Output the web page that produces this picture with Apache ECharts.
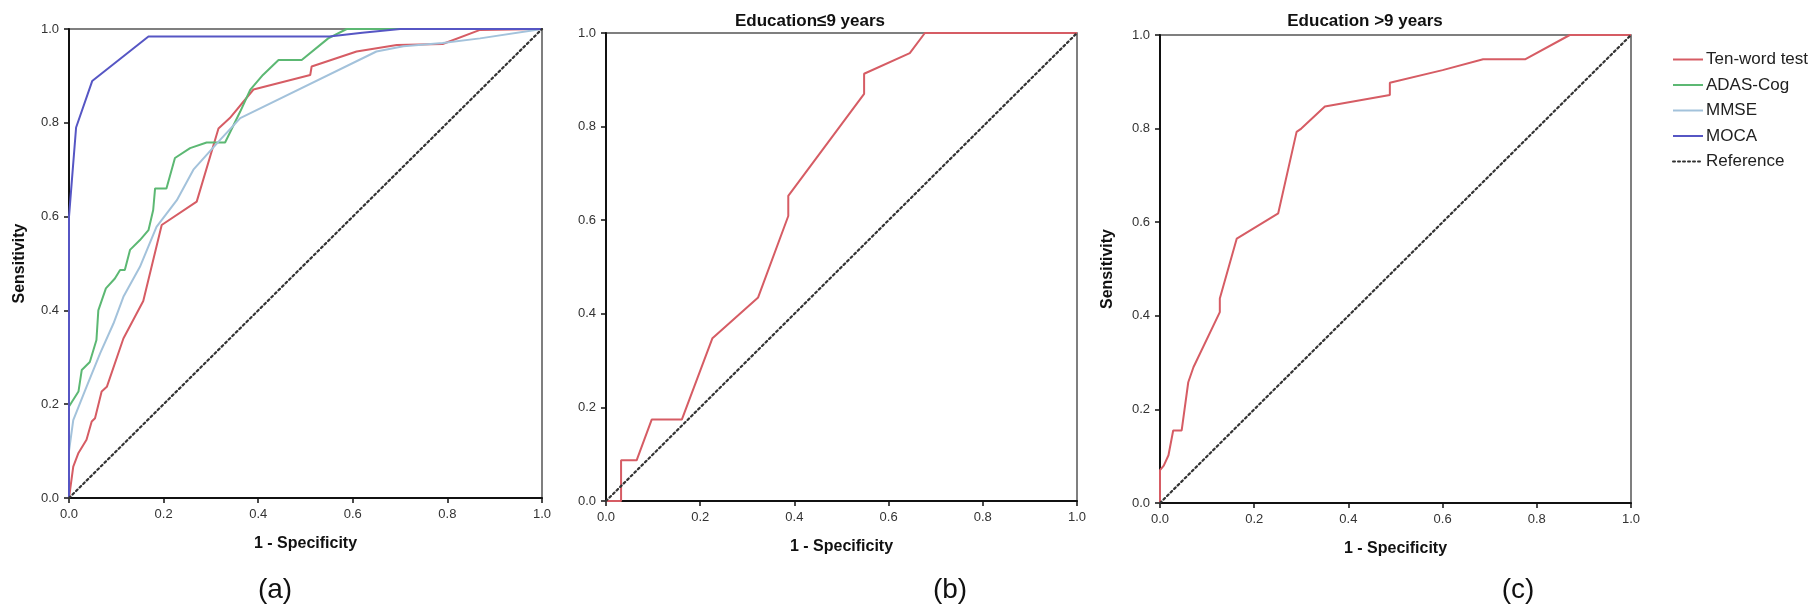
<!DOCTYPE html>
<html>
<head>
<meta charset="utf-8">
<script src="https://cdn.jsdelivr.net/npm/echarts@6/dist/echarts.min.js"></script>
<style>
html,body{margin:0;padding:0;background:#fff;}
#chart{width:1819px;height:615px;}
</style>
</head>
<body>
<div id="chart"></div>
<script>
// ---------- data ----------
const axisTicks = [0, 0.2, 0.4, 0.6, 0.8, 1.0];
const seriesNames = ['Ten-word test', 'ADAS-Cog', 'MMSE', 'MOCA', 'Reference'];
const panelTitles = ['', 'Education\u22649 years', 'Education >9 years'];
const panelLetters = ['(a)', '(b)', '(c)'];

// Panel (a): all tests
const tenWordA = [[0,0],[0.009,0.067],[0.02,0.096],[0.037,0.124],[0.048,0.163],[0.055,0.17],[0.069,0.227],[0.08,0.237],[0.115,0.34],[0.157,0.42],[0.196,0.582],[0.27,0.632],[0.316,0.788],[0.34,0.81],[0.39,0.871],[0.51,0.902],[0.513,0.92],[0.608,0.952],[0.693,0.966],[0.79,0.968],[0.869,0.998],[1,1]];
const adasA = [[0,0],[0,0.195],[0.02,0.227],[0.027,0.273],[0.044,0.29],[0.058,0.337],[0.062,0.4],[0.078,0.447],[0.097,0.468],[0.108,0.486],[0.118,0.486],[0.129,0.529],[0.15,0.55],[0.168,0.571],[0.178,0.614],[0.182,0.66],[0.206,0.66],[0.224,0.725],[0.256,0.746],[0.291,0.758],[0.33,0.758],[0.362,0.824],[0.383,0.87],[0.41,0.902],[0.443,0.934],[0.492,0.934],[0.548,0.98],[0.587,1],[1,1]];
const mmseA = [[0,0],[0,0.1],[0.009,0.166],[0.037,0.237],[0.066,0.309],[0.094,0.372],[0.115,0.429],[0.15,0.493],[0.185,0.578],[0.228,0.635],[0.263,0.7],[0.319,0.763],[0.362,0.81],[0.65,0.952],[0.707,0.963],[0.79,0.97],[0.869,0.98],[1,1]];
const mocaA = [[0,0],[0,0.6],[0.015,0.79],[0.049,0.889],[0.168,0.984],[0.55,0.984],[0.62,0.992],[0.7,1],[1,1]];

// Panel (b): education <= 9 years
const tenWordB = [[0,0],[0.032,0],[0.032,0.087],[0.065,0.087],[0.097,0.174],[0.161,0.174],[0.226,0.348],[0.323,0.435],[0.387,0.609],[0.387,0.652],[0.548,0.87],[0.548,0.913],[0.645,0.957],[0.677,1],[1,1]];

// Panel (c): education > 9 years
const tenWordC = [[0,0],[0,0.07],[0.008,0.08],[0.018,0.102],[0.028,0.155],[0.046,0.155],[0.06,0.258],[0.071,0.29],[0.127,0.408],[0.127,0.437],[0.163,0.565],[0.251,0.619],[0.29,0.793],[0.30,0.80],[0.35,0.847],[0.488,0.872],[0.488,0.898],[0.60,0.925],[0.686,0.948],[0.775,0.948],[0.87,1],[1,1]];

const referenceLine = [[0,0],[1,1]];

// ---------- styles ----------
const colors = {
  'Ten-word test': '#d65c64',
  'ADAS-Cog': '#5cb873',
  'MMSE': '#a3c2db',
  'MOCA': '#5656c4',
  'Reference': '#333333'
};
const FONT = "'Liberation Sans', Arial, sans-serif";

const grids = [
  {left: 69, top: 29, width: 473, height: 469},
  {left: 606, top: 33, width: 471, height: 468},
  {left: 1160, top: 35, width: 471, height: 468}
];

function fmt(v){ return (Math.round(v*10)/10).toFixed(1); }

const xAxes = grids.map((g, i) => ({
  gridIndex: i, type: 'value', min: 0, max: 1, interval: 0.2,
  name: '1 - Specificity', nameLocation: 'middle', nameGap: 38,
  nameTextStyle: {fontFamily: FONT, fontWeight: 'bold', fontSize: 16, color: '#111'},
  axisLine: {show: true, lineStyle: {color: '#111', width: 2}},
  axisTick: {show: true, inside: false, length: 5, lineStyle: {color: '#111', width: 1.5}},
  axisLabel: {margin: 10, fontFamily: FONT, fontSize: 13, color: '#333', formatter: fmt},
  splitLine: {show: false}
}));
const yAxes = grids.map((g, i) => ({
  gridIndex: i, type: 'value', min: 0, max: 1, interval: 0.2,
  name: i === 1 ? '' : 'Sensitivity', nameLocation: 'middle', nameGap: i === 0 ? 41 : 44,
  nameTextStyle: {fontFamily: FONT, fontWeight: 'bold', fontSize: 16, color: '#111'},
  axisLine: {show: true, lineStyle: {color: '#111', width: 2}},
  axisTick: {show: true, inside: false, length: 5, lineStyle: {color: '#111', width: 1.5}},
  axisLabel: {margin: 10, fontFamily: FONT, fontSize: 13, color: '#333', formatter: fmt},
  splitLine: {show: false}
}));

function lineSeries(name, data, idx){
  const isRef = name === 'Reference';
  return {
    name: name, type: 'line', data: data, xAxisIndex: idx, yAxisIndex: idx,
    symbol: 'none', showSymbol: false, animation: false, silent: true,
    lineStyle: {color: colors[name], width: isRef ? 2.2 : 2, type: isRef ? [2, 3] : 'solid', cap: isRef ? 'round' : 'butt'},
    itemStyle: {color: colors[name]}
  };
}

const series = [
  lineSeries('Ten-word test', tenWordA, 0),
  lineSeries('ADAS-Cog', adasA, 0),
  lineSeries('MMSE', mmseA, 0),
  lineSeries('MOCA', mocaA, 0),
  lineSeries('Reference', referenceLine, 0),
  lineSeries('Ten-word test', tenWordB, 1),
  lineSeries('Reference', referenceLine, 1),
  lineSeries('Ten-word test', tenWordC, 2),
  lineSeries('Reference', referenceLine, 2)
];

const titles = [
  {text: panelTitles[1], left: 805, top: 8, textAlign: 'center',
   textStyle: {fontFamily: FONT, fontWeight: 'bold', fontSize: 17, color: '#111'}},
  {text: panelTitles[2], left: 1360, top: 8, textAlign: 'center',
   textStyle: {fontFamily: FONT, fontWeight: 'bold', fontSize: 17, color: '#111'}},
  {text: panelLetters[0], left: 270, top: 571, textAlign: 'center',
   textStyle: {fontFamily: FONT, fontWeight: 'normal', fontSize: 28, color: '#111'}},
  {text: panelLetters[1], left: 945, top: 571, textAlign: 'center',
   textStyle: {fontFamily: FONT, fontWeight: 'normal', fontSize: 28, color: '#111'}},
  {text: panelLetters[2], left: 1513, top: 571, textAlign: 'center',
   textStyle: {fontFamily: FONT, fontWeight: 'normal', fontSize: 28, color: '#111'}}
];

const chart = echarts.init(document.getElementById('chart'), null, {renderer: 'canvas'});
chart.setOption({
  backgroundColor: '#ffffff',
  animation: false,
  title: titles,
  legend: {
    data: seriesNames, orient: 'vertical', left: 1667, top: 46,
    itemWidth: 30, itemHeight: 14, itemGap: 8.5,
    itemStyle: {opacity: 0, borderWidth: 0},
    textStyle: {fontFamily: FONT, fontSize: 17, color: '#222', padding: [0,0,0,-2]},
    selectedMode: false
  },
  grid: grids.map(g => Object.assign({show: true, borderColor: '#555', borderWidth: 1.5, backgroundColor: 'transparent', containLabel: false, outerBoundsMode: 'none'}, g)),
  xAxis: xAxes,
  yAxis: yAxes,
  series: series
});
</script>
</body>
</html>
